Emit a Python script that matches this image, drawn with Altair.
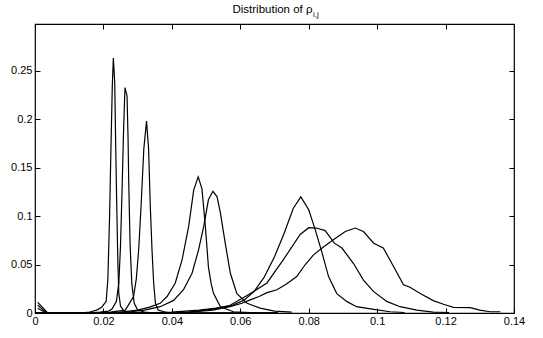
import altair as alt
import pandas as pd

# ---- data ----
c1_x = [0.0008, 0.0037, 0.013, 0.016, 0.018, 0.0195, 0.0208, 0.0213, 0.0218, 0.0222, 0.0226, 0.0229,
        0.0233, 0.0236, 0.0239, 0.0242, 0.0245, 0.025, 0.026, 0.028, 0.03, 0.071]
c1_y = [0.011, 0, 0, 0.001, 0.003, 0.006, 0.012, 0.035, 0.10, 0.17, 0.235, 0.263,
        0.238, 0.17, 0.11, 0.055, 0.02, 0.007, 0.002, 0.0005, 0, 0]

c2_x = [0.0008, 0.0035, 0.015, 0.019, 0.0215, 0.0225, 0.0238, 0.0245, 0.025, 0.0255, 0.0259, 0.0263,
        0.0269, 0.0272, 0.0274, 0.0278, 0.0283, 0.029, 0.030, 0.032, 0.035, 0.071]
c2_y = [0.008, 0, 0, 0.001, 0.002, 0.004, 0.012, 0.031, 0.07, 0.134, 0.19, 0.2325,
        0.224, 0.18, 0.134, 0.07, 0.03, 0.01, 0.003, 0.001, 0, 0]

c3_x = [0.0008, 0.0032, 0.018, 0.022, 0.0264, 0.0288, 0.0296, 0.0303, 0.031, 0.0318, 0.0326,
        0.0332, 0.0337, 0.0342, 0.0347, 0.0352, 0.036, 0.038, 0.04, 0.071]
c3_y = [0.005, 0, 0, 0.001, 0.003, 0.017, 0.035, 0.065, 0.11, 0.169, 0.198,
        0.169, 0.11, 0.065, 0.03, 0.010, 0.003, 0.001, 0, 0]

c4_x = [0, 0.02, 0.025, 0.03, 0.0335, 0.0366, 0.0386, 0.041, 0.043, 0.0449, 0.0464, 0.0477,
        0.0488, 0.0498, 0.0507, 0.0515, 0.0522, 0.0542, 0.058, 0.065, 0.071]
c4_y = [0, 0, 0.001, 0.003, 0.006, 0.010, 0.017, 0.031, 0.055, 0.089, 0.127, 0.1404,
        0.128, 0.089, 0.047, 0.03, 0.020, 0.0065, 0.0013, 0, 0]

c5_x = [0, 0.02, 0.027, 0.032, 0.0366, 0.0405, 0.0434, 0.0459, 0.0478, 0.0493, 0.0507, 0.052,
        0.0532, 0.0542, 0.0556, 0.0571, 0.059, 0.062, 0.0658, 0.07, 0.075]
c5_y = [0, 0, 0.001, 0.003, 0.0065, 0.013, 0.024, 0.041, 0.065, 0.089, 0.117, 0.1255,
        0.120, 0.103, 0.072, 0.041, 0.020, 0.010, 0.005, 0.002, 0.001]

c6_x = [0, 0.03, 0.04, 0.048, 0.053, 0.057, 0.061, 0.064, 0.067, 0.070, 0.0728, 0.0755, 0.0777,
        0.080, 0.0819, 0.0839, 0.0858, 0.0882, 0.0912, 0.094, 0.099, 0.1038, 0.108]
c6_y = [0, 0, 0.001, 0.003, 0.005, 0.007, 0.013, 0.022, 0.037, 0.058, 0.082, 0.108, 0.1197,
        0.1065, 0.086, 0.062, 0.0376, 0.020, 0.0117, 0.0065, 0.0038, 0.0013, 0.0005]

c7_x = [0, 0.035, 0.045, 0.052, 0.057, 0.062, 0.0678, 0.0726, 0.0775, 0.080, 0.0822, 0.0848,
        0.0875, 0.0897, 0.0931, 0.096, 0.099, 0.1028, 0.1067, 0.1116, 0.1164, 0.121]
c7_y = [0, 0, 0.001, 0.004, 0.008, 0.018, 0.031, 0.055, 0.081, 0.088, 0.0876, 0.085,
        0.072, 0.067, 0.051, 0.034, 0.022, 0.012, 0.0065, 0.003, 0.001, 0.0005]

c8_x = [0, 0.035, 0.045, 0.052, 0.057, 0.0605, 0.0629, 0.0655, 0.0678, 0.0707, 0.0735, 0.0765,
        0.079, 0.0814, 0.0843, 0.0872, 0.0907, 0.0936, 0.096, 0.099, 0.1018, 0.1048, 0.1077,
        0.1096, 0.1126, 0.1164, 0.1194, 0.1223, 0.1272, 0.130, 0.133, 0.136]
c8_y = [0, 0, 0.001, 0.003, 0.0065, 0.010, 0.0135, 0.017, 0.021, 0.024, 0.030, 0.0376,
        0.050, 0.060, 0.068, 0.0755, 0.084, 0.0876, 0.084, 0.072, 0.067, 0.048, 0.029,
        0.0266, 0.020, 0.0128, 0.009, 0.0059, 0.0055, 0.003, 0.0013, 0.0013]

x_ticks = [0, 0.02, 0.04, 0.06, 0.08, 0.1, 0.12, 0.14]
y_ticks = [0, 0.05, 0.1, 0.15, 0.2, 0.25]
title_main = "Distribution of ρ"
title_sub = "i,j"

curves = [(c1_x, c1_y), (c2_x, c2_y), (c3_x, c3_y), (c4_x, c4_y),
          (c5_x, c5_y), (c6_x, c6_y), (c7_x, c7_y), (c8_x, c8_y)]
rows = []
for k, (xs, ys) in enumerate(curves):
    for i, (a, b) in enumerate(zip(xs, ys)):
        rows.append({"curve": k, "order": i, "x": a, "y": b})
df = pd.DataFrame(rows)

FONT = "Liberation Sans"
xscale = alt.Scale(domain=[0, 0.14], nice=False, zero=False)
yscale = alt.Scale(domain=[0, 0.298], nice=False, zero=False)

common = dict(tickSize=5, offset=-5, domain=False, grid=False, title=None,
              labelFont=FONT, labelFontSize=11, labelColor="black",
              tickColor="black", tickWidth=1, labelFlush=False,
              labelOverlap=False, labelBound=False)

lines = alt.Chart(df).mark_line(color="black", strokeWidth=1.2).encode(
    x=alt.X("x:Q", scale=xscale,
            axis=alt.Axis(orient="bottom", values=x_ticks, format="~g", labelPadding=2, **common)),
    y=alt.Y("y:Q", scale=yscale,
            axis=alt.Axis(orient="left", values=y_ticks, format="~g", labelPadding=3, **common)),
    detail="curve:N",
    order="order:Q",
)

frame = alt.Chart(df).mark_point(opacity=0).encode(
    x=alt.X("x:Q", scale=xscale,
            axis=alt.Axis(orient="top", values=x_ticks, labels=False, **common)),
    y=alt.Y("y:Q", scale=yscale,
            axis=alt.Axis(orient="right", values=y_ticks, labels=False, **common)),
)

t1 = alt.Chart(pd.DataFrame({"t": [title_main]})).mark_text(
    align="right", baseline="alphabetic", font=FONT, fontSize=11.5, color="black"
).encode(x=alt.value(277.5), y=alt.value(-11), text="t:N")

t2 = alt.Chart(pd.DataFrame({"t": [title_sub]})).mark_text(
    align="left", baseline="alphabetic", font=FONT, fontSize=8, color="black"
).encode(x=alt.value(278), y=alt.value(-7), text="t:N")

chart = alt.layer(lines, frame, t1, t2).resolve_axis(
    x="independent", y="independent"
).properties(
    width=479, height=289,
    autosize=alt.AutoSizeParams(type="none"),
    padding={"left": 35, "top": 24, "right": 29, "bottom": 25},
    background="white",
).configure_view(stroke="black", strokeWidth=1.2)

chart.save("out.html", embed_options={"renderer": "svg", "actions": False})
